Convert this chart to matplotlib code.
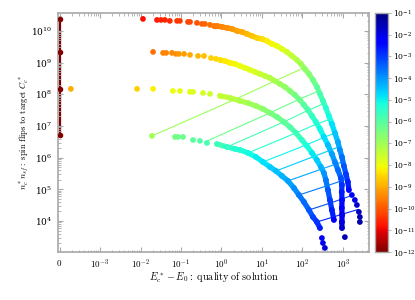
import numpy as np
import matplotlib.pyplot as plt
from matplotlib.colors import LogNorm
from matplotlib.cm import ScalarMappable
from matplotlib.collections import LineCollection

plt.rcParams['mathtext.fontset'] = 'cm'
plt.rcParams['font.family'] = ['DejaVu Serif']

ZERO = 1e-4  # an exact solution (x = 0) is drawn at this spot of the log axis

# four runs: x = E_c* - E_0, y = n_c* n_sf, logp = log10 of the colour value
arc1_x = [0.0115, 0.0255, 0.032, 0.040, 0.053, 0.080, 0.094, 0.149, 0.167, 0.248, 0.330,
          0.391, 0.520, 0.653, 0.774, 1.03, 1.37, 1.82, 2.42, 3.21, 4.27, 5.66, 7.53, 10.0,
          13.3, 17.7, 23.5, 31.2, 41.4, 55.1, 73.1, 91.8, 115, 145, 182, 228, 271, 321, 380,
          451, 535, 634, 753, 844, 945, 1059, 1186, 1328, 1406, 1667, 1977, 2218, 2483, 2627,
          2627]
arc1_y = [2.39e10, 2.22e10, 2.22e10, 2.22e10, 2.07e10, 2.07e10, 2.07e10, 1.92e10, 1.92e10,
          1.79e10, 1.66e10, 1.66e10, 1.55e10, 1.44e10, 1.44e10, 1.34e10, 1.24e10, 1.16e10,
          1.0e10, 9.3e9, 8.0e9, 6.95e9, 6.0e9, 5.6e9, 4.83e9, 3.88e9, 3.36e9, 2.70e9, 2.17e9,
          1.62e9, 1.21e9, 9.1e8, 6.3e8, 4.39e8, 2.84e8, 1.71e8, 1.03e8, 6.2e7, 3.7e7, 2.07e7,
          1.16e7, 6.0e6, 3.13e6, 1.75e6, 1.05e6, 5.46e5, 3.05e5, 1.71e5, 9.5e4, 6.6e4, 4.6e4,
          3.2e4, 1.93e4, 1.34e4, 9.3e3]
arc1_logp = [-10.8, -10.7, -10.6, -10.55, -10.5, -10.4, -10.35, -10.2, -10.15, -10.0, -9.9,
             -9.85, -9.7, -9.6, -9.55, -9.45, -9.35, -9.25, -9.1, -9.0, -8.85, -8.7, -8.55,
             -8.4, -8.25, -8.1, -7.95, -7.8, -7.6, -7.4, -7.2, -7.0, -6.8, -6.6, -6.35, -6.1,
             -5.85, -5.6, -5.35, -5.1, -4.8, -4.5, -4.2, -3.9, -3.6, -3.3, -3.0, -2.7, -2.4,
             -2.2, -2.0, -1.8, -1.6, -1.5, -1.4]

arc2_x = [0.0204, 0.036, 0.043, 0.060, 0.075, 0.089, 0.119, 0.167, 0.263, 0.370, 0.551,
          0.731, 0.918, 1.22, 1.62, 2.15, 2.86, 3.80, 5.06, 6.72, 8.93, 11.9, 15.8, 20.9,
          27.8, 37.0, 49.1, 65.3, 86.7, 109, 137, 172, 215, 271, 340, 427, 535, 634, 753,
          893, 945, 935, 950, 940, 955, 945, 950]
arc2_y = [2.17e9, 2.02e9, 2.02e9, 2.02e9, 1.88e9, 1.88e9, 1.88e9, 1.75e9, 1.62e9, 1.62e9,
          1.40e9, 1.31e9, 1.21e9, 1.13e9, 9.8e8, 9.1e8, 7.85e8, 6.8e8, 5.9e8, 5.07e8, 4.39e8,
          3.79e8, 3.28e8, 2.64e8, 2.12e8, 1.71e8, 1.27e8, 9.5e7, 6.6e7, 4.6e7, 3.2e7, 2.07e7,
          1.34e7, 8.05e6, 4.5e6, 2.5e6, 1.31e6, 7.3e5, 4.08e5, 2.28e5, 1.37e5, 8.2e4, 4.6e4,
          2.58e4, 1.55e4, 9.3e3, 6.0e3]
arc2_logp = [-9.7, -9.5, -9.45, -9.4, -9.3, -9.25, -9.15, -9.0, -8.85, -8.75, -8.6, -8.5,
             -8.4, -8.3, -8.2, -8.1, -8.0, -7.9, -7.8, -7.7, -7.55, -7.4, -7.25, -7.1, -6.95,
             -6.8, -6.6, -6.4, -6.2, -6.0, -5.8, -5.55, -5.3, -5.05, -4.75, -4.45, -4.1, -3.8,
             -3.5, -3.2, -2.9, -2.7, -2.5, -2.3, -2.1, -1.9, -1.7]

arc3_x = [1.9e-4, 8.2e-3, 0.0204, 0.063, 0.094, 0.167, 0.198, 0.349, 0.520, 0.918, 1.62,
          2.86, 4.51, 7.11, 10.6, 15.8, 23.5, 34.9, 49.1, 69.2, 97.3, 129, 172, 228, 286,
          340, 380, 427, 478, 535, 600, 1120]
arc3_y = [1.48e8, 1.48e8, 1.48e8, 1.27e8, 1.27e8, 1.19e8, 1.19e8, 1.10e8, 1.03e8, 8.9e7,
          7.7e7, 6.2e7, 5.3e7, 4.28e7, 3.44e7, 2.58e7, 1.92e7, 1.34e7, 9.3e6, 6.0e6, 3.6e6,
          2.34e6, 1.41e6, 8.4e5, 5.08e5, 3.28e5, 1.97e5, 9.5e4, 4.6e4, 2.23e4, 1.08e4, 3.1e3]
arc3_logp = [-9.0, -8.6, -8.2, -8.0, -7.95, -7.85, -7.8, -7.7, -7.6, -7.45, -7.3, -7.15,
             -7.0, -6.85, -6.7, -6.5, -6.3, -6.1, -5.9, -5.65, -5.4, -5.2, -4.9, -4.6, -4.3,
             -4.0, -3.7, -3.3, -3.0, -2.7, -2.4, -1.5]

arc4_x = [0.0192, 0.071, 0.0843, 0.112, 0.198, 0.294, 0.439, 0.774, 1.37, 2.15, 2.86, 4.51,
          7.11, 10.6, 15.8, 22.2, 31.2, 43.9, 61.7, 82.0, 109, 145, 182, 228, 271, 303, 321,
          359]
arc4_y = [4.84e6, 4.5e6, 4.5e6, 4.5e6, 3.6e6, 3.37e6, 2.9e6, 2.7e6, 2.17e6, 1.88e6, 1.75e6,
          1.41e6, 1.05e6, 7.3e5, 5.08e5, 3.79e5, 2.64e5, 1.84e5, 1.10e5, 6.6e4, 3.99e4,
          2.23e4, 1.34e4, 9.3e3, 6.0e3, 2.9e3, 2.02e3, 1.41e3]
arc4_logp = [-7.0, -6.35, -6.3, -6.25, -6.05, -5.95, -5.8, -5.65, -5.5, -5.35, -5.25, -5.1,
             -4.95, -4.8, -4.6, -4.45, -4.3, -4.1, -3.9, -3.7, -3.5, -3.3, -3.1, -2.9, -2.7,
             -2.3, -2.1, -1.9]

# same colour value joined across the four runs (run 4, 3, 2, 1)
link_logp = [-12, -7.0, -6.3, -5.8, -5.4, -5.0, -4.6, -4.2, -3.7, -3.2, -2.8]
link_x = [[0, 0, 0, 0],
          [0.0192, 2.15, 20.9, 109],
          [0.391, 15.8, 82.0, 248],
          [1.37, 34.9, 137, 340],
          [4.51, 69.2, 228, 478],
          [10.6, 122, 340, 634],
          [22.2, 199, 489, 806],
          [43.9, 303, 664, 1000],
          [82.0, 403, 913, 1276],
          [145, 494, 945, 1667],
          [228, 582, 945, 2399]]
link_y = [[5.0e6, 1.48e8, 2.17e9, 2.3e10],
          [4.84e6, 6.88e7, 2.64e8, 6.8e8],
          [3.13e6, 2.58e7, 6.88e7, 1.27e8],
          [2.17e6, 1.34e7, 3.09e7, 5.14e7],
          [1.41e6, 6.0e6, 1.16e7, 1.61e7],
          [7.3e5, 2.5e6, 4.34e6, 6.0e6],
          [3.79e5, 1.11e6, 1.71e6, 2.22e6],
          [1.84e5, 4.40e5, 6.22e5, 7.41e5],
          [6.6e4, 1.29e5, 1.84e5, 2.09e5],
          [2.23e4, 3.7e4, 4.95e4, 6.40e4],
          [9.3e3, 1.34e4, 1.63e4, 2.31e4]]

cbar_ticks = [1e-12, 1e-11, 1e-10, 1e-9, 1e-8, 1e-7, 1e-6, 1e-5, 1e-4, 1e-3, 1e-2, 1e-1]

cmap = plt.get_cmap('jet_r')
norm = LogNorm(1e-12, 1e-1)
grey = '#a8a8a8'


def pos(x):
    x = np.asarray(x, dtype=float)
    return np.where(x == 0, ZERO, x)


fig = plt.figure(figsize=(4.15, 3.0), dpi=100)
ax = fig.add_axes([0.140, 0.160, 0.749, 0.797])

for lp, lx, ly in zip(link_logp, link_x, link_y):
    col = cmap(norm(10.0 ** lp))
    lw = 1.6 if lp == -12 else 0.8
    ax.plot(pos(lx), ly, color=col, lw=lw, zorder=1)
    if lp == -12:
        ax.scatter(pos(lx), ly, s=16, color=col, linewidths=0, zorder=3)

# where the points of each run sit so close that they merge into a band
runs = [(arc1_x, arc1_y, arc1_logp, 13, 49), (arc2_x, arc2_y, arc2_logp, 12, 47),
        (arc3_x, arc3_y, arc3_logp, 9, 31), (arc4_x, arc4_y, arc4_logp, 7, 25)]
for xs, ys, lps, b0, b1 in runs:
    px = pos(xs)[b0:b1]
    py = np.array(ys)[b0:b1]
    seg = np.stack([np.column_stack([px[:-1], py[:-1]]),
                    np.column_stack([px[1:], py[1:]])], axis=1)
    band = LineCollection(seg, colors=cmap(norm(10.0 ** np.array(lps[b0:b1 - 1]))),
                          linewidths=3.8, capstyle='round', zorder=2)
    ax.add_collection(band)
    ax.scatter(pos(xs), ys, c=10.0 ** np.array(lps), cmap=cmap, norm=norm,
               s=17, linewidths=0, zorder=2)

ax.set_xscale('log')
ax.set_yscale('log')
ax.set_xlim(9.2e-5, 4.4e3)
ax.set_ylim(1.05e3, 3.7e10)
ax.set_xticks([ZERO, 1e-3, 1e-2, 1e-1, 1, 10, 100, 1000])
ax.set_xticklabels(['$0$', '$10^{-3}$', '$10^{-2}$', '$10^{-1}$', '$10^{0}$',
                    '$10^{1}$', '$10^{2}$', '$10^{3}$'])
ax.tick_params(which='both', direction='in', top=True, right=True, color=grey,
               labelsize=6.5, pad=4)
ax.tick_params(which='major', length=3.5, width=0.8)
ax.tick_params(which='minor', length=1.8, width=0.6)
for sp in ax.spines.values():
    sp.set_color(grey)
    sp.set_linewidth(1.2)

ax.set_xlabel(r'$E_c^* - E_0\mathrm{:\ quality\ of\ solution}$', fontsize=7.3, labelpad=0)
ax.set_ylabel(r'$n_c^* n_{sf}\mathrm{:\ spin\ flips\ to\ target\ }C_c^*$', fontsize=6.2,
              labelpad=0.5)

cax = fig.add_axes([0.904, 0.160, 0.031, 0.797])
cb = fig.colorbar(ScalarMappable(norm=norm, cmap=cmap), cax=cax, ticks=cbar_ticks)
cb.ax.minorticks_off()
cb.ax.tick_params(labelsize=5.5, length=2.5, color=grey, width=0.6, pad=1)
cb.outline.set_edgecolor(grey)
cb.outline.set_linewidth(1.0)

fig.savefig('out.png', dpi=100)
